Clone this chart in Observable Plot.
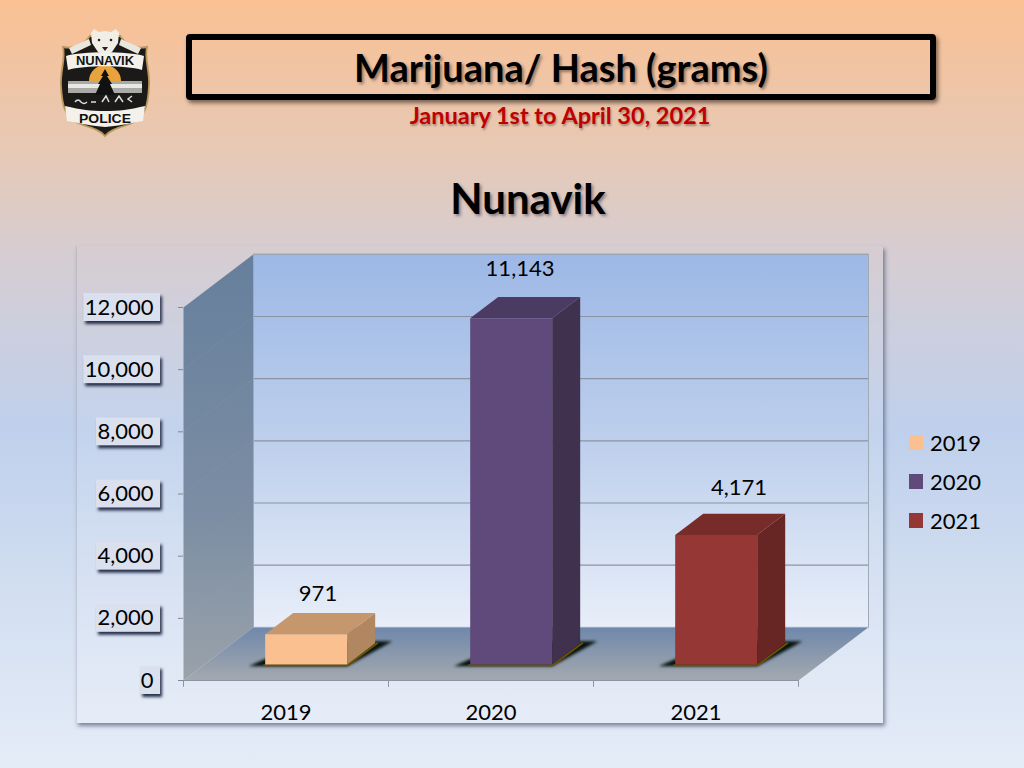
<!DOCTYPE html>
<html><head><meta charset="utf-8">
<script src="https://cdn.jsdelivr.net/npm/d3@7"></script>
<script src="https://cdn.jsdelivr.net/npm/@observablehq/plot@0.6"></script>
<style>
html,body{margin:0;padding:0;width:1024px;height:768px;overflow:hidden}
body{position:relative;font-family:Lato,sans-serif;background:linear-gradient(180deg,#fac093 0%,#e6c9b6 20%,#d6cdd2 33%,#bfd0ec 56%,#d3dff1 78%,#e4ecf7 100%)}
.abs{position:absolute}
#titlebox{left:186px;top:34px;width:738px;height:54px;border:6px solid #000;border-radius:4px;box-shadow:2px 3px 4px rgba(40,30,20,.6)}
.t{left:0;text-align:center;font-weight:700;white-space:nowrap}
#title{left:186px;width:750px;top:45px;font-size:38px;line-height:44px;color:#000;text-shadow:2px 2px 3px rgba(70,50,40,.55)}
#sub{left:186px;width:748px;top:101px;font-size:23.5px;line-height:28px;color:#c00000;text-shadow:1px 2px 2px rgba(90,60,50,.45)}
#region{left:328px;width:400px;top:172px;font-size:42px;line-height:52px;color:#000;text-shadow:2px 2px 3px rgba(70,60,70,.55)}
#panel{left:76px;top:246px;width:807px;height:477px;box-sizing:border-box;background:linear-gradient(180deg,rgba(255,255,255,0) 0%,rgba(255,255,255,.18) 100%);box-shadow:2px 3px 4px rgba(60,70,100,.6);border-left:1px solid rgba(150,155,170,.35)}
#chart{left:0;top:0}
#chart svg{display:block;overflow:visible}
.tickbox{filter:drop-shadow(2px 3px 1.5px rgba(30,38,65,.95))}
.blur{filter:blur(1.6px)}
#legend{left:909px;top:423px;font-size:22px;color:#000}
.li{display:flex;align-items:center;height:39.2px}
.sw{width:14px;height:15px;margin-right:7px}
#logo{left:58px;top:26px}
</style></head><body>
<div class="abs" id="panel"></div>
<div class="abs" id="titlebox"></div>
<div class="abs t" id="title">Marijuana/ Hash (grams)</div>
<div class="abs t" id="sub">January 1st to April 30, 2021</div>
<div class="abs t" id="region">Nunavik</div>
<svg class="abs" id="logo" width="94" height="114" viewBox="0 0 94 114">
  <path d="M5 21 C15 23 25 20 32 10 L62 10 C69 20 79 23 89 21 C86 33 92 44 91 60 C90 78 88 92 72 98 C60 102 52 104 47 110 C42 104 34 102 22 98 C6 92 4 78 3 60 C2 44 8 33 5 21Z" fill="#1b1a18" stroke="#b9965a" stroke-width="1.8"/>
  <path d="M31 55 A16 16 0 0 1 63 55Z" fill="#e8a33c"/>
  <rect x="10" y="55" width="74" height="12" fill="#a9a9a6"/>
  <rect x="10" y="58" width="74" height="4" fill="#e8e8e4"/>
  <path d="M47 43 L51 50 L49 50 L54 58 L52 58 L57 69 L37 69 L42 58 L40 58 L45 50 L43 50Z" fill="#111"/>
  <path d="M17 76 q3 -4 6 0 q3 3 6 0 M33 76 h5 M44 76 l4 -6 l3 6 M57 76 l4 -6 l4 6 M74 70 l-4 3 l4 3" stroke="#ddd" stroke-width="1.5" fill="none"/>
  <path d="M11 22 L31 13 L33 19 L14 28Z M83 22 L63 13 L61 19 L80 28Z" fill="#e9e6dd"/>
  <path d="M33 7 L36 3 L41 6 L47 5 L53 6 L58 3 L61 7 L60 17 L54 26 L47 29 L40 26 L34 17Z" fill="#f1eee6"/>
  <circle cx="41" cy="14" r="1.3" fill="#222"/><circle cx="53" cy="14" r="1.3" fill="#222"/><path d="M44 21 h6 l-3 4z" fill="#222"/>
  <path d="M8 30 C24 25 70 25 86 30 L84 44 C68 39 26 39 10 44Z" fill="#f3f1ea"/>
  <text x="47" y="39" text-anchor="middle" font-family="'Liberation Sans',sans-serif" font-weight="700" font-size="12.5" fill="#111" textLength="58" lengthAdjust="spacingAndGlyphs">NUNAVIK</text>
  <path d="M7 80 C24 84 32 85 47 85 C62 85 70 84 87 80 L85 95 C68 98 60 100 47 101 C34 100 26 98 9 95Z" fill="#f3f1ea"/>
  <text x="47" y="97" text-anchor="middle" font-family="'Liberation Sans',sans-serif" font-weight="700" font-size="13" fill="#111" textLength="52" lengthAdjust="spacingAndGlyphs">POLICE</text>
</svg>
<div class="abs" id="chart"></div>
<div class="abs" id="legend"></div>
<script>
const years = ["2019","2020","2021"];
const values = [971,11143,4171];
const frontColors = ["#fac08f","#604a7b","#953735"];
const topColors = ["#c6966c","#4b3a61","#772c2a"];
const sideColors = ["#b08760","#40314f","#672523"];
const yTicks = [0,2000,4000,6000,8000,10000,12000];

const DX = 0.3415, DY = 1710;          // depth of the 3-D box in scale units
const barHalf = 0.2, barD0 = 0.30, barD1 = 0.70, barShift = -0.004;
const P = (x,v,d) => ({x:x+d*DX, y:v+d*DY});
const poly = (id,pts) => pts.map(p => ({...P(...p), id}));

const wall = poly("w",[[0,0,1],[3,0,1],[3,12000,1],[0,12000,1]]);
const side = poly("s",[[0,0,0],[0,0,1],[0,12000,1],[0,12000,0]]);
const floor = poly("f",[[0,0,0],[3,0,0],[3,0,1],[0,0,1]]);

const faces = [], shadows = [], edges = [];
years.forEach((yr,i)=>{
  const c=i+.5+barShift,l=c-barHalf,r=c+barHalf,v=values[i];
  faces.push(...poly(yr+"side",[[r,0,barD0],[r,0,barD1],[r,v,barD1],[r,v,barD0]]).map(o=>({...o,c:sideColors[i]})));
  faces.push(...poly(yr+"top",[[l,v,barD0],[r,v,barD0],[r,v,barD1],[l,v,barD1]]).map(o=>({...o,c:topColors[i]})));
  faces.push(...poly(yr+"front",[[l,0,barD0],[r,0,barD0],[r,v,barD0],[l,v,barD0]]).map(o=>({...o,c:frontColors[i]})));
  shadows.push(...poly(yr,[[l-.07,0,barD0-.03],[r+.01,0,barD0-.03],[r+.07,0,barD1+.04],[l+.05,0,barD1+.04]]));
  edges.push(...poly(yr,[[l,0,barD0-.015],[r+.005,0,barD0-.015],[r+.01,0,barD1]]));
});

const labelNudge = [[-3,0],[-6,-9],[8,-6]];
const labelDepth = 0.5;
const tickFmt = d3.format(",d");
const pxPerUnit = 205;
const boxWidth = t => { const s=tickFmt(t); return (s.replace(",","").length*12.75+(s.includes(",")?6:0)+7)/pxPerUnit; };

const font = "Lato, sans-serif";
const gridMarks = yTicks.filter(t=>t>0).map(t=>{const a=P(3,t,1),b=P(0,t,1),c=P(0,t,0);return {t,a,b,c}});
const plot = Plot.plot({
  width:1024,height:768,
  marginLeft:183,marginRight:226,marginTop:307,marginBottom:88,
  style:{background:"transparent",fontFamily:font,overflow:"visible"},
  x:{domain:[0,3],axis:null},
  y:{domain:[0,12000],axis:null},
  color:{type:"identity"},
  marks:[
    Plot.line(wall,{x:"x",y:"y",z:"id",fill:"url(#wallG)",stroke:"none"}),
    Plot.line(side,{x:"x",y:"y",z:"id",fill:"url(#sideG)",stroke:"none"}),
    Plot.line(floor,{x:"x",y:"y",z:"id",fill:"url(#floorG)",stroke:"none"}),
    Plot.link(gridMarks,{x1:d=>d.a.x,y1:d=>d.a.y,x2:d=>d.b.x,y2:d=>d.b.y,stroke:"#8b93a3",strokeWidth:1.2}),
    Plot.link(gridMarks,{x1:d=>d.b.x,y1:d=>d.b.y,x2:d=>d.c.x,y2:d=>d.c.y,stroke:"#9aa6b4",strokeWidth:.6,strokeOpacity:.25}),
    Plot.line([...wall,wall[0]],{x:"x",y:"y",stroke:"#a0a9b8",strokeWidth:1}),
    Plot.rect(yTicks,{x1:t=>-0.112-boxWidth(t),x2:-0.112,y1:t=>t-450,y2:t=>t+450,fill:"#dbe0ee",stroke:"none",className:"tickbox"}),
    Plot.axisY({ticks:yTicks,tickFormat:tickFmt,tickSize:5,tickPadding:25,fontSize:22,stroke:"#7f8794",fill:"#000",label:null}),
    Plot.ruleY([0],{x1:0,x2:3,stroke:"#8d95a3",strokeWidth:1.2}),
    Plot.axisX({ticks:[.5,1.5,2.5],tickFormat:d=>years[d-.5],tickSize:0,tickPadding:24,fontSize:22,fill:"#000",label:null}),
    Plot.ruleX([0,1,2,3],{y1:0,y2:-220,stroke:"#8d95a3"}),
    Plot.line(shadows,{x:"x",y:"y",z:"id",fill:"#06120c",stroke:"none",className:"blur"}),
    Plot.line(edges,{x:"x",y:"y",z:"id",stroke:"#6b5200",strokeWidth:2}),
    Plot.line(faces,{x:"x",y:"y",z:"id",fill:"c",stroke:"none"}),
    ...years.map((yr,i)=>{
      const p=P(i+.5,values[i],labelDepth);
      return Plot.text([tickFmt(values[i])],{x:()=>p.x,y:()=>p.y,text:d=>d,dx:labelNudge[i][0],dy:-30+labelNudge[i][1],fontSize:22,fill:"#000"});
    })
  ]
});
const ns="http://www.w3.org/2000/svg";
const defs=document.createElementNS(ns,"defs");
defs.innerHTML=`
<linearGradient id="wallG" x1="0" y1="0" x2="0" y2="1"><stop offset="0" stop-color="#9db8e6"/><stop offset=".5" stop-color="#bdcfec"/><stop offset="1" stop-color="#e8eef9"/></linearGradient>
<linearGradient id="sideG" x1="0" y1="0" x2="0" y2="1"><stop offset="0" stop-color="#667f9c"/><stop offset=".6" stop-color="#7b8da3"/><stop offset="1" stop-color="#9aa2aa"/></linearGradient>
<linearGradient id="floorG" x1="0" y1="0" x2="0" y2="1"><stop offset="0" stop-color="#6f88ab"/><stop offset="1" stop-color="#a4a9af"/></linearGradient>`;
plot.prepend(defs);
document.getElementById("chart").append(plot);
document.getElementById("legend").innerHTML=years.map((y,i)=>`<div class="li"><span class="sw" style="background:${frontColors[i]}"></span>${y}</div>`).join("");
</script>
</body></html>
